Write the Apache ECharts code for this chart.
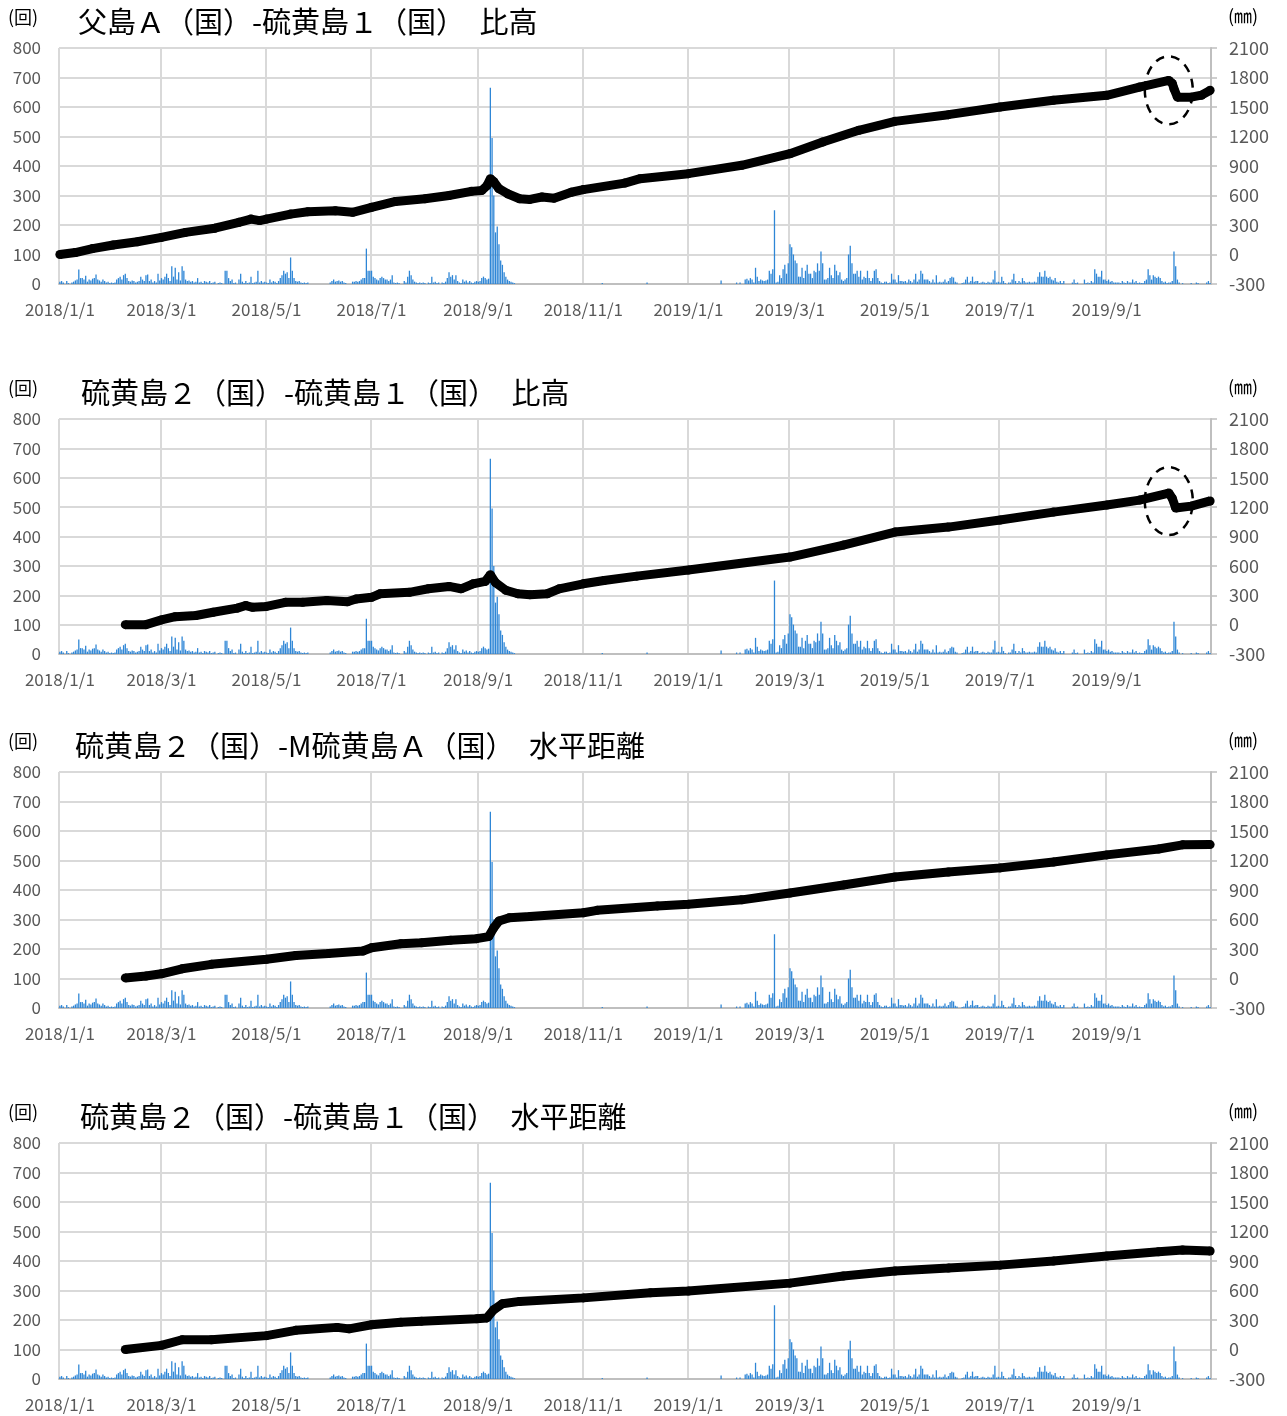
<!DOCTYPE html>
<html>
<head>
<meta charset="utf-8">
<title>硫黄島 基線変化と地震回数</title>
<script src="https://cdn.jsdelivr.net/npm/echarts@6/dist/echarts.min.js"></script>
<style>
html, body { margin: 0; padding: 0; background: #fff; }
#chart { width: 1287px; height: 1416px; }
</style>
</head>
<body>
<div id="chart"></div>
<script>
// 日別地震回数 2018/1/1〜
var quake2018 = [
	8,10,5,0,10,3,0,5,8,12,15,49,20,20,15,28,8,15,12,18,20,32,15,12,8,15,10,5,8,3,5, // 1月
	3,5,15,20,25,15,30,35,20,10,8,12,10,5,8,10,25,15,10,30,32,10,15,5,10,5,35,12, // 2月
	20,15,25,35,20,10,60,25,55,15,40,12,60,45,15,10,12,8,10,5,8,20,5,8,3,10,8,5,10,3,5, // 3月
	8,0,3,5,3,0,45,45,20,10,15,3,5,0,15,35,8,3,10,3,5,25,3,5,8,45,5,10,5,8, // 4月
	5,3,15,5,10,8,3,10,20,30,45,35,40,20,90,45,20,10,8,10,5,3,5,3,5,0,0,0,0,0,0, // 5月
	0,0,0,0,0,0,5,10,15,8,10,12,8,10,5,3,0,0,0,8,8,10,8,10,15,20,20,120,45,45, // 6月
	45,25,20,15,12,20,25,20,15,15,10,15,30,5,3,5,3,0,0,10,5,25,45,30,15,8,5,3,5,3,5, // 7月
	3,0,5,3,25,5,8,3,5,0,5,3,8,20,40,25,30,15,30,10,5,3,15,8,12,5,10,5,3,8,10, // 8月
	8,10,20,25,20,15,18,665,495,300,175,195,135,80,65,40,25,15,10,8,5,3,0,0,0,0,0,0,0,0, // 9月
	0,0,0,0,0,0,0,0,0,0,0,0,0,0,0,0,0,0,0,0,0,0,0,0,0,0,0,0,0,0,0, // 10月
	0,0,0,0,0,0,0,0,0,0,0,3,0,0,0,0,0,0,0,0,0,0,0,0,0,0,0,0,0,0, // 11月
	0,0,0,0,0,0,0,5,0,0,0,0,0,0,0,0,0,0,0,0,0,0,0,0,0,0,0,0,0,0,0 // 12月
];
var quake2019 = [
	0,0,0,0,0,0,0,0,0,0,0,0,0,0,0,0,0,0,0,12,0,0,0,0,0,0,0,0,5,0,5, // 1月
	0,0,15,18,12,20,15,5,55,25,10,15,12,10,12,15,45,35,50,250,5,8,30,20,50,65,35,70, // 2月
	135,125,100,80,70,25,25,55,20,45,65,35,35,20,45,40,70,45,110,70,15,15,20,55,30,20,65,45,30,40,15, // 3月
	10,15,20,100,130,70,35,35,45,25,45,15,25,20,45,20,10,20,45,50,20,10,5,3,8,8,3,5,35,15, // 4月
	15,5,30,10,10,8,10,5,15,10,5,15,35,8,15,45,35,15,15,15,10,5,15,5,30,5,8,5,8,15,5, // 5月
	10,20,25,22,8,5,0,0,3,5,15,25,5,10,25,8,10,10,3,5,8,5,3,8,5,5,15,45,5,8, // 6月
	5,25,10,3,0,5,5,15,35,10,3,10,5,20,10,5,5,8,5,5,8,5,25,40,25,25,45,25,20,25,15, // 7月
	12,20,8,5,10,3,10,0,0,0,0,5,15,3,5,0,0,0,15,3,5,3,10,5,50,35,25,25,45,15,15, // 8月
	10,15,8,10,5,5,5,5,3,10,5,3,10,5,5,15,5,10,3,5,3,3,10,15,50,30,15,30,25,20, // 9月
	25,20,10,5,8,3,5,5,10,110,60,15,5,0,3,0,0,0,0,3,0,0,5,3,0,0,0,0,5,10,3 // 10月
];

// 基線変化 (mm)
var chichiIwo1Height = [
	['2018-01-01',0],['2018-01-10',20],['2018-01-20',60],['2018-02-01',96],['2018-02-15',130],
	['2018-03-01',174],['2018-03-15',225],['2018-04-01',267],['2018-04-15',327],['2018-04-22',360],
	['2018-04-27',345],['2018-05-01',360],['2018-05-15',411],['2018-05-25',435],['2018-06-10',444],
	['2018-06-20',429],['2018-07-01',480],['2018-07-15',540],['2018-08-01',567],['2018-08-15',600],
	['2018-08-28',642],['2018-09-03',651],['2018-09-06',700],['2018-09-08',771],['2018-09-10',740],
	['2018-09-13',669],['2018-09-18',618],['2018-09-25',567],['2018-10-01',560],['2018-10-08',585],
	['2018-10-15',573],['2018-10-25',633],['2018-11-01',660],['2018-11-25',726],['2018-12-04',771],
	['2019-01-01',822],['2019-02-01',907],['2019-03-01',1025],['2019-03-20',1144],['2019-04-10',1263],
	['2019-05-01',1354],['2019-06-01',1422],['2019-07-01',1500],['2019-08-01',1568],['2019-09-01',1619],
	['2019-09-20',1703],['2019-10-07',1770],['2019-10-09',1740],['2019-10-10',1686],['2019-10-12',1600],
	['2019-10-20',1600],['2019-10-26',1620],['2019-10-31',1670]
];
var iwo2Iwo1Height = [
	['2018-02-08',0],['2018-02-20',0],['2018-03-01',48],['2018-03-09',81],['2018-03-21',93],
	['2018-03-31',126],['2018-04-14',168],['2018-04-19',195],['2018-04-23',177],['2018-05-01',186],
	['2018-05-12',228],['2018-05-22',228],['2018-06-05',246],['2018-06-17',234],['2018-06-22',261],
	['2018-07-01',279],['2018-07-06',315],['2018-07-23',330],['2018-08-03',366],['2018-08-15',390],
	['2018-08-22',366],['2018-08-29',417],['2018-09-05',441],['2018-09-08',510],['2018-09-11',429],
	['2018-09-17',351],['2018-09-24',315],['2018-10-01',306],['2018-10-11',315],['2018-10-18',366],
	['2018-11-01',417],['2018-11-13',450],['2018-12-02',495],['2019-01-01',558],['2019-03-01',690],
	['2019-04-01',813],['2019-05-01',945],['2019-06-01',996],['2019-07-01',1068],['2019-08-01',1149],
	['2019-09-01',1221],['2019-09-20',1272],['2019-10-07',1344],['2019-10-09',1290],['2019-10-11',1191],
	['2019-10-20',1210],['2019-10-31',1263]
];
var iwo2MiwoADist = [
	['2018-02-08',6],['2018-02-20',25],['2018-03-01',48],['2018-03-13',99],['2018-03-30',144],
	['2018-05-01',195],['2018-05-18',234],['2018-06-06',255],['2018-06-26',279],['2018-07-01',312],
	['2018-07-18',354],['2018-07-30',363],['2018-08-16',390],['2018-08-31',405],['2018-09-07',426],
	['2018-09-10',516],['2018-09-13',585],['2018-09-19',618],['2018-10-01',630],['2018-11-01',669],
	['2018-11-09',693],['2018-12-14',738],['2019-01-01',756],['2019-02-01',800],['2019-03-01',870],
	['2019-04-01',951],['2019-05-01',1032],['2019-06-01',1083],['2019-07-01',1125],['2019-08-01',1185],
	['2019-09-01',1257],['2019-10-01',1317],['2019-10-15',1359],['2019-10-31',1362]
];
var iwo2Iwo1Dist = [
	['2018-02-08',0],['2018-03-01',42],['2018-03-13',99],['2018-03-30',99],['2018-05-01',141],
	['2018-05-18',195],['2018-06-11',225],['2018-06-18',210],['2018-07-01',252],['2018-07-18',276],
	['2018-07-30',288],['2018-08-31',312],['2018-09-06',321],['2018-09-10',405],['2018-09-15',465],
	['2018-09-25',489],['2018-11-01',525],['2018-12-10',576],['2019-01-01',594],['2019-03-01',675],
	['2019-04-01',747],['2019-05-01',798],['2019-06-01',828],['2019-07-01',858],['2019-08-01',900],
	['2019-09-01',951],['2019-10-01',993],['2019-10-15',1011],['2019-10-31',1002]
];

var titles = [
	'父島Ａ（国）-硫黄島１（国）　比高',
	'硫黄島２（国）-硫黄島１（国）　比高',
	'硫黄島２（国）-M硫黄島Ａ（国）　水平距離',
	'硫黄島２（国）-硫黄島１（国）　水平距離'
];
var lines = [chichiIwo1Height, iwo2Iwo1Height, iwo2MiwoADist, iwo2Iwo1Dist];

// レイアウト
var panelTop = [48, 419, 772, 1143];
var panelHeight = [236, 235, 236, 236];
var titleLeft = [78, 81, 75, 80];
var FONT = '"Noto Sans CJK JP", "Noto Sans", sans-serif';

function makeDays(start, end) {
	var days = [];
	var d = new Date(start + 'T00:00:00Z');
	var e = new Date(end + 'T00:00:00Z');
	while(d <= e) {
		days.push(d.toISOString().slice(0, 10));
		d.setUTCDate(d.getUTCDate() + 1);
	}
	return days;
}

function isTickDay(value) {
	var p = value.split('-');
	return p[2] === '01' && parseInt(p[1], 10) % 2 === 1;
}

function renderChart() {
	var days = makeDays('2018-01-01', '2019-10-31');
	var quakes = quake2018.concat(quake2019);
	var myChart = echarts.init(document.getElementById('chart'));

	var option = {
		animation: false,
		backgroundColor: '#fff',
		title: [],
		grid: [],
		xAxis: [],
		yAxis: [],
		series: []
	};

	for(var k = 0; k < 4; k++) {
		option.title.push({
			text: titles[k],
			left: titleLeft[k],
			top: panelTop[k] - 41,
			padding: 0,
			textStyle: { fontFamily: FONT, fontSize: 29, fontWeight: 'normal', color: '#000' }
		});
		option.title.push({
			text: '(回)',
			left: 8,
			top: panelTop[k] - 40,
			padding: 0,
			textStyle: { fontFamily: FONT, fontSize: 18, fontWeight: 'normal', color: '#000' }
		});
		option.title.push({
			text: '(㎜)',
			left: 1228,
			top: panelTop[k] - 41,
			padding: 0,
			textStyle: { fontFamily: FONT, fontSize: 18, fontWeight: 'normal', color: '#000' }
		});

		option.grid.push({
			left: 59,
			right: 76,
			top: panelTop[k],
			height: panelHeight[k]
		});

		option.xAxis.push({
			type: 'category',
			gridIndex: k,
			data: days,
			boundaryGap: true,
			axisLine: { show: true, lineStyle: { color: '#bfbfbf', width: 2 } },
			axisTick: { show: false },
			axisLabel: {
				interval: function(idx, value) { return isTickDay(value); },
				formatter: function(value) {
					var p = value.split('-');
					return p[0] + '/' + parseInt(p[1], 10) + '/' + parseInt(p[2], 10);
				},
				color: '#595959',
				fontFamily: FONT,
				fontSize: 17,
				margin: 17
			},
			splitLine: {
				show: true,
				interval: function(idx, value) { return isTickDay(value); },
				lineStyle: { color: '#d9d9d9', width: 2 }
			}
		});

		option.yAxis.push({
			type: 'value',
			gridIndex: k,
			position: 'left',
			min: 0,
			max: 800,
			interval: 100,
			axisLine: { show: false },
			axisTick: { show: false },
			axisLabel: { color: '#595959', fontFamily: FONT, fontSize: 17, margin: 18 },
			splitLine: { show: true, lineStyle: { color: '#d9d9d9', width: 2 } }
		});
		option.yAxis.push({
			type: 'value',
			gridIndex: k,
			position: 'right',
			min: -300,
			max: 2100,
			interval: 300,
			axisLine: { show: true, lineStyle: { color: '#bfbfbf', width: 2 } },
			axisTick: { show: true, length: 6, lineStyle: { color: '#bfbfbf', width: 1.5 } },
			axisLabel: {
				color: '#595959', fontFamily: FONT, fontSize: 18, margin: 18,
				formatter: function(v) { return String(v); }
			},
			splitLine: { show: false }
		});

		option.series.push({
			name: '地震回数',
			type: 'bar',
			xAxisIndex: k,
			yAxisIndex: 2 * k,
			barWidth: '75%',
			itemStyle: { color: '#2e86d6' },
			data: quakes,
			z: 2
		});
		option.series.push({
			name: titles[k],
			type: 'line',
			xAxisIndex: k,
			yAxisIndex: 2 * k + 1,
			symbol: 'circle',
			symbolSize: 9,
			showAllSymbol: true,
			itemStyle: { color: '#000' },
			lineStyle: { color: '#000', width: 9 },
			data: lines[k],
			z: 3
		});
	}

	myChart.setOption(option);

	// 点線の楕円（変化箇所）
	var marks = [
		{ panel: 0, date: '2019-10-07', value: 1670 },
		{ panel: 1, date: '2019-10-07', value: 1262 }
	];
	var graphics = [];
	for(var i = 0; i < marks.length; i++) {
		var pt = myChart.convertToPixel({ xAxisIndex: marks[i].panel, yAxisIndex: 2 * marks[i].panel + 1 }, [marks[i].date, marks[i].value]);
		graphics.push({
			type: 'ellipse',
			shape: { cx: pt[0], cy: pt[1], rx: 24, ry: 34 },
			style: { fill: null, stroke: '#000', lineWidth: 2.5, lineDash: [9, 7] },
			z: 10
		});
	}
	myChart.setOption({ graphic: graphics });
}

renderChart();
</script>
</body>
</html>
